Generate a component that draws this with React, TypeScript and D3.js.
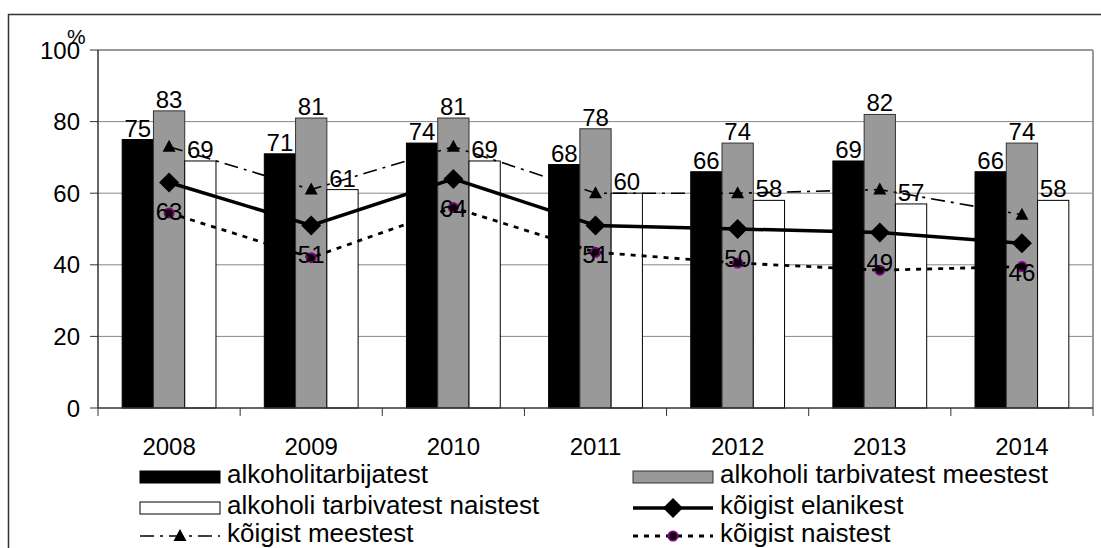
import React from 'react';
import * as d3 from 'd3';

// values
const years = ['2008', '2009', '2010', '2011', '2012', '2013', '2014'];
const alkoholitarbijatest = [75, 71, 74, 68, 66, 69, 66];
const tarbivatestMeestest = [83, 81, 81, 78, 74, 82, 74];
const tarbivatestNaistest = [69, 61, 69, 60, 58, 57, 58];
const koigistElanikest = [63, 51, 64, 51, 50, 49, 46];
const koigistMeestest = [73, 61, 73, 60, 60, 61, 54];
const koigistNaistest = [54.5, 42, 56, 43.5, 40.5, 38.5, 39.5];
const yTicks = [0, 20, 40, 60, 80, 100];

const barSeries = [
  { name: 'alkoholitarbijatest', values: alkoholitarbijatest, fill: '#000000', stroke: '#000000' },
  { name: 'alkoholi tarbivatest meestest', values: tarbivatestMeestest, fill: '#999999', stroke: '#333333' },
  { name: 'alkoholi tarbivatest naistest', values: tarbivatestNaistest, fill: '#ffffff', stroke: '#000000' },
];

const FONT = '"Liberation Sans", Arial, sans-serif';

const W = 1101;
const H = 548;
const left = 98;
const right = 1093;
const top = 50;
const bottom = 408;

const Marker = ({ kind, x, y }: { kind: string; x: number; y: number }) => {
  if (kind === 'diamond') {
    const r = 10;
    return <path d={`M${x},${y - r}L${x + r},${y}L${x},${y + r}L${x - r},${y}Z`} fill="#000" />;
  }
  if (kind === 'triangle') {
    return <path d={`M${x},${y - 7}L${x + 6.5},${y + 5}L${x - 6.5},${y + 5}Z`} fill="#000" />;
  }
  return <circle cx={x} cy={y} r={4.5} fill="#000" stroke="#800080" strokeWidth={2} />;
};

const App = () => {
  const x0 = d3.scaleBand<string>().domain(years).range([left, right]).paddingInner(0.34).paddingOuter(0.17);
  const x1 = d3.scaleBand<string>().domain(barSeries.map(s => s.name)).range([0, x0.bandwidth()]);
  const y = d3.scaleLinear().domain([0, 100]).range([bottom, top]);
  const cx = (yr: string) => (x0(yr) as number) + x0.bandwidth() / 2;

  const lineSeries = [
    { name: 'kõigist elanikest', values: koigistElanikest, marker: 'diamond', width: 3.5, dash: '' },
    { name: 'kõigist meestest', values: koigistMeestest, marker: 'triangle', width: 1.6, dash: '14,6,3,6' },
    { name: 'kõigist naistest', values: koigistNaistest, marker: 'circle', width: 2.8, dash: '5,6' },
  ];

  const line = d3.line<number>().x((d, i) => cx(years[i])).y(d => y(d));
  const step = x0.step();

  // legend: two columns, three rows
  const legendItems = [
    { name: barSeries[0].name, type: 'bar', s: barSeries[0] },
    { name: barSeries[1].name, type: 'bar', s: barSeries[1] },
    { name: barSeries[2].name, type: 'bar', s: barSeries[2] },
    { name: lineSeries[0].name, type: 'line', s: lineSeries[0] },
    { name: lineSeries[1].name, type: 'line', s: lineSeries[1] },
    { name: lineSeries[2].name, type: 'line', s: lineSeries[2] },
  ];
  const colX = [140, 633];
  const rowY = [477, 508, 536];

  return (
    <svg width={W} height={H} style={{ position: 'absolute', left: 0, top: 0, background: '#fff' }} fontFamily={FONT}>
      <rect x={0} y={0} width={W} height={H} fill="#fff" />
      <rect x={8.5} y={14.5} width={1200} height={700} fill="none" stroke="#333" strokeWidth={1.5} />

      {/* grid */}
      {yTicks.filter(t => t > 0).map(t => (
        <line key={t} x1={left} x2={right} y1={y(t)} y2={y(t)} stroke={t === 100 ? '#999' : '#888'} strokeWidth={t === 100 ? 2 : 1} />
      ))}
      <line x1={right} x2={right} y1={top} y2={bottom} stroke="#999" strokeWidth={2} />

      {/* bars */}
      {years.map((yr, i) => (
        <g key={yr} transform={`translate(${x0(yr)},0)`}>
          {barSeries.map(s => (
            <rect key={s.name} x={x1(s.name)} y={y(s.values[i])} width={x1.bandwidth()} height={bottom - y(s.values[i])}
              fill={s.fill} stroke={s.stroke} strokeWidth={1} />
          ))}
        </g>
      ))}

      {/* axes */}
      <line x1={left} x2={left} y1={top} y2={bottom} stroke="#333" strokeWidth={1.5} />
      <line x1={left} x2={right} y1={bottom} y2={bottom} stroke="#333" strokeWidth={1.5} />
      {yTicks.map(t => (
        <g key={t}>
          <line x1={left - 8} x2={left} y1={y(t)} y2={y(t)} stroke="#333" strokeWidth={1} />
          <text x={80} y={y(t)} dy="0.36em" textAnchor="end" fontSize={24}>{t}</text>
        </g>
      ))}
      <text x={67} y={44} fontSize={21}>%</text>
      {d3.range(years.length + 1).map(k => (
        <line key={k} x1={left + k * step} x2={left + k * step} y1={bottom} y2={bottom + 8} stroke="#333" strokeWidth={1} />
      ))}
      {years.map(yr => (
        <text key={yr} x={cx(yr)} y={455} textAnchor="middle" fontSize={24}>{yr}</text>
      ))}

      {/* lines */}
      {lineSeries.map(s => (
        <path key={s.name} d={line(s.values) || ''} fill="none" stroke="#000" strokeWidth={s.width} strokeDasharray={s.dash} />
      ))}
      {lineSeries.map(s => s.values.map((v, i) => (
        <Marker key={s.name + i} kind={s.marker} x={cx(years[i])} y={y(v)} />
      )))}

      {/* labels */}
      {years.map((yr, i) => barSeries.map(s => (
        <text key={yr + s.name} x={(x0(yr) as number) + (x1(s.name) as number) + x1.bandwidth() / 2} y={y(s.values[i]) - 3}
          textAnchor="middle" fontSize={24}>{s.values[i]}</text>
      )))}
      {koigistElanikest.map((v, i) => (
        <text key={i} x={cx(years[i])} y={y(v) + 38} textAnchor="middle" fontSize={24}>{v}</text>
      ))}

      {/* legend */}
      {legendItems.map((it, k) => {
        const lx = colX[k % 2];
        const ly = rowY[Math.floor(k / 2)];
        const s: any = it.s;
        return (
          <g key={it.name}>
            {it.type === 'bar' ? (
              <rect x={lx} y={ly - 6} width={80} height={12} fill={s.fill} stroke={s.stroke} strokeWidth={1} />
            ) : (
              <>
                <line x1={lx} x2={lx + 80} y1={ly} y2={ly} stroke="#000" strokeWidth={s.width} strokeDasharray={s.dash} />
                <Marker kind={s.marker} x={lx + 40} y={ly} />
              </>
            )}
            <text x={lx + 87} y={ly + 6} fontSize={26}>{it.name}</text>
          </g>
        );
      })}
    </svg>
  );
};

export default App;
